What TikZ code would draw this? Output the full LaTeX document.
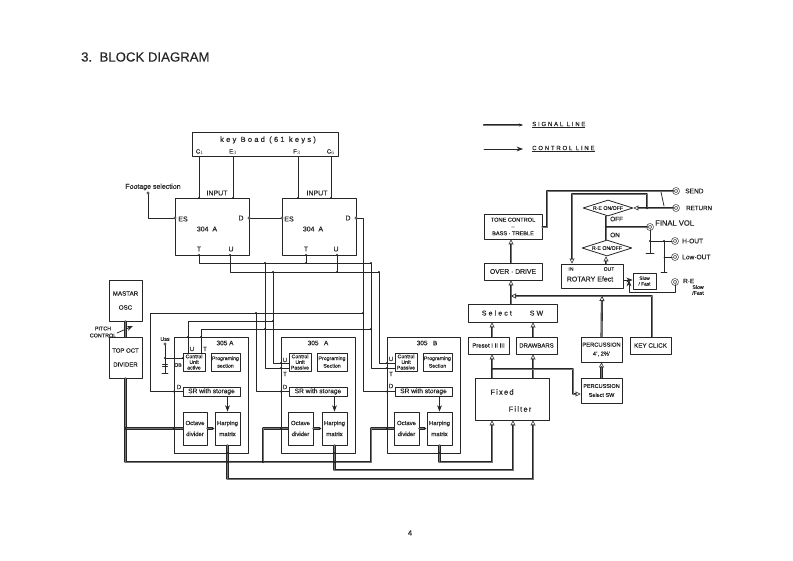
\documentclass[tikz,border=0pt]{standalone}
\usepackage{fontspec}
\setmainfont{Liberation Sans}[RawFeature={embolden=0.5}]
\newfontfamily\plainfont{Liberation Sans}[RawFeature={embolden=0.25}]
\newfontfamily\widefont[LetterSpace=16, RawFeature={embolden=0.5}]{Liberation Sans}
\newfontfamily\widerfont[LetterSpace=30, RawFeature={embolden=0.5}]{Liberation Sans}
\usetikzlibrary{arrows.meta,shapes.geometric}
\begin{document}
\begin{tikzpicture}[x=1pt, y=-1pt, line cap=round, line join=round, >=Stealth, font=\fontsize{6}{7}\selectfont, color=black!85,
	blk/.style={draw, line width=0.8pt, inner sep=0pt, align=center},
	ctl/.style={line width=0.75pt},
	sig/.style={line width=0.6pt, double=black!55, double distance=0.9pt},
	sigin/.style={sig, -{Triangle[open, length=5pt, width=5pt]}},
	jack/.style={circle, draw, line width=0.6pt, double=white, double distance=1.2pt, minimum size=5pt, inner sep=0pt},
	turn/.style={diamond, draw, line width=0.8pt, aspect=3, inner sep=0pt, minimum width=50pt, minimum height=16pt, font=\fontsize{5.2}{6}\selectfont},
	txt/.style={inner sep=0pt, align=center},
	pinl/.style={txt, font=\fontsize{7}{8}\selectfont},
	ctlb/.style={blk, minimum height=18pt, font=\fontsize{5.2}{5.6}\selectfont},
	prgb/.style={blk, minimum height=18pt, font=\fontsize{5.2}{7.5}\selectfont},
	srb/.style={blk, minimum height=9pt, font=\fontsize{6.6}{7}\selectfont},
	octb/.style={blk, minimum height=33pt, font=\fontsize{6}{9}\selectfont},
	earth/.style={line width=0.7pt}]
	\useasboundingbox (0,0) rectangle (793,561);
	\node[anchor=west, txt, font=\plainfont\fontsize{13.2}{16}\selectfont] (title) at (81,57) {3.\ \ BLOCK DIAGRAM};
	\node[txt, font=\plainfont\fontsize{7.5}{8}\selectfont] (page) at (410,533) {4};

	\coordinate (legA) at (484,125);
	\coordinate (legB) at (523,125);
	\coordinate (legC) at (484,149);
	\coordinate (legD) at (523,149);
	\draw[sig, -{Stealth[length=4pt]}] (legA) -- (legB);
	\draw[ctl, ->] (legC) -- (legD);
	\node[anchor=west, txt, font=\widerfont\fontsize{6}{7}\selectfont] (sigtxt) at (532,125) {\underline{SIGNAL LINE}};
	\node[anchor=west, txt, font=\widerfont\fontsize{6}{7}\selectfont] (ctltxt) at (532,149) {\underline{CONTROL LINE}};

	\node[blk, minimum width=146pt, minimum height=24pt] (keyb) at (265,144) {};
	\node[txt, font=\widerfont\fontsize{7.5}{8}\selectfont] (keytxt) at (268,140) {key Boad (61 keys)};
	\node[txt] (c1) at (200,152) {C$_1$};
	\node[txt] (e3) at (233,152) {E$_3$};
	\node[txt] (f3) at (297,152) {F$_3$};
	\node[txt] (c6) at (331,152) {C$_6$};
	\node[blk, minimum width=74pt, minimum height=57pt] (chipA) at (212,226.5) {};
	\node[blk, minimum width=74pt, minimum height=57pt] (chipB) at (319,226.5) {};
	\node[pinl] at (207,229) {304\ \ A};
	\node[pinl] at (313,229) {304\ \ A};
	\node[pinl] at (217,193) {INPUT};
	\node[pinl] at (317,193) {INPUT};
	\node[pinl] at (183,219) {ES};
	\node[pinl] at (241,218) {D};
	\node[pinl] at (199,249) {T};
	\node[pinl] at (231,249) {U};
	\node[pinl] at (289,219) {ES};
	\node[pinl] at (348,218) {D};
	\node[pinl] at (306,249) {T};
	\node[pinl] at (336,249) {U};
	\node[pinl] (foot) at (153,187) {Footage selection};

	\node[blk, minimum width=33pt, minimum height=41pt, font=\fontsize{6.2}{11}\selectfont] (mstr) at (125.5,300.5) {MASTAR\\[3pt]OSC};
	\node[blk, minimum width=33pt, minimum height=41pt, font=\fontsize{6}{11}\selectfont] (topoct) at (125.5,357.5) {TOP OCT\\[3pt]DIVIDER};
	\node[txt, font=\fontsize{5.4}{7}\selectfont] (pitch) at (103,332) {PITCH\\CONTROL};

	\node[blk, minimum width=74pt, minimum height=116pt] (secA) at (211,395) {};
	\node[blk, minimum width=74pt, minimum height=116pt] (secB) at (318,395) {};
	\node[blk, minimum width=73pt, minimum height=116pt] (secC) at (423.5,395) {};
	\node[txt, font=\fontsize{6.5}{7}\selectfont] at (225,343) {305 A};
	\node[txt, font=\fontsize{6.5}{7}\selectfont] at (318,343) {305\ \ \ A};
	\node[txt, font=\fontsize{6.5}{7}\selectfont] at (427,343) {305\ \ \ B};

	\node[ctlb, minimum width=22pt] (ctlA) at (194,362) {Control\\Unit\\active};
	\node[prgb, minimum width=29pt] (prgA) at (225.5,362) {Programing\\section};
	\node[srb, minimum width=57pt] (srA) at (211.5,391.5) {SR with storage};
	\node[octb, minimum width=24pt] (octA) at (195,428.5) {Octave\\[2pt]divider};
	\node[octb, minimum width=25pt] (harA) at (227.5,428.5) {Harping\\[2pt]matrix};

	\node[ctlb, minimum width=22pt] (ctlB) at (300,362) {Control\\Unit\\Passive};
	\node[prgb, minimum width=30pt] (prgB) at (332,362) {Programing\\Section};
	\node[srb, minimum width=58pt] (srB) at (318,391.5) {SR with storage};
	\node[octb, minimum width=25pt] (octB) at (300.5,428.5) {Octave\\[2pt]divider};
	\node[octb, minimum width=25pt] (harB) at (334.5,428.5) {Harping\\[2pt]matrix};

	\node[ctlb, minimum width=22pt] (ctlC) at (406,362) {Control\\Unit\\Passive};
	\node[prgb, minimum width=29pt] (prgC) at (437.5,362) {Programing\\Section};
	\node[srb, minimum width=57pt] (srC) at (423.5,391.5) {SR with storage};
	\node[octb, minimum width=25pt] (octC) at (406.5,428.5) {Octave\\[2pt]divider};
	\node[octb, minimum width=25pt] (harC) at (439.5,428.5) {Harping\\[2pt]matrix};

	\node[txt] at (192,349) {U};
	\node[txt] at (205,349) {T};
	\node[txt] at (179,387) {D};
	\node[txt, font=\fontsize{5}{7}\selectfont] at (178,365) {OB};
	\node[txt, font=\fontsize{5.4}{7}\selectfont] at (165,339) {Uss};
	\node[txt] at (285,360) {U};
	\node[txt] at (285,374) {T};
	\node[txt] at (285,387) {D};
	\node[txt] at (391,359) {U};
	\node[txt] at (391,374) {T};
	\node[txt] at (391,386) {D};

	\node[blk, minimum width=74pt, minimum height=42pt] (filt) at (512,399) {};
	\node[txt, font=\widefont\fontsize{7.5}{8}\selectfont] (fixed) at (502,392) {Fixed};
	\node[txt, font=\widefont\fontsize{7.5}{8}\selectfont] (filter) at (520,409) {Filter};
	\node[blk, minimum width=41pt, minimum height=17pt, font=\fontsize{6}{7}\selectfont] (pres) at (488.5,345.5) {Preset I II III};
	\node[blk, minimum width=41pt, minimum height=17pt, font=\fontsize{6}{7}\selectfont] (bars) at (536.5,345.5) {DRAWBARS};
	\node[blk, minimum width=89pt, minimum height=18pt, font=\widerfont\fontsize{7}{8}\selectfont] (sel) at (512.5,313) {Select\hspace{18pt}SW};
	\node[blk, minimum width=41pt, minimum height=25pt, font=\fontsize{5.8}{9}\selectfont] (perc) at (601.5,349.5) {PERCUSSION\\4', 2⅔'};
	\node[blk, minimum width=41pt, minimum height=25pt, font=\fontsize{5.5}{9}\selectfont] (psel) at (601.5,390.5) {PERCUSSION\\Select SW};
	\node[blk, minimum width=41pt, minimum height=17pt, font=\fontsize{6.3}{7}\selectfont] (keyc) at (650.5,345.5) {KEY CLICK};
	\node[blk, minimum width=58pt, minimum height=17pt, font=\fontsize{6.8}{7}\selectfont] (over) at (513,271.5) {OVER · DRIVE};
	\node[blk, minimum width=58pt, minimum height=25pt, font=\fontsize{5.6}{6.8}\selectfont] (tone) at (513,226.5) {TONE CONTROL\\--\\BASS · TREBLE};
	\node[blk, minimum width=62pt, minimum height=24pt] (rot) at (592,276) {};
	\node[txt, font=\fontsize{5}{5}\selectfont] at (571,269) {IN};
	\node[txt, font=\fontsize{5}{5}\selectfont] at (609,269) {OUT};
	\node[txt, font=\fontsize{7}{7}\selectfont] (rottxt) at (590,279) {ROTARY Efect};
	\node[blk, minimum width=23pt, minimum height=16pt, font=\fontsize{4.8}{5.6}\selectfont] (slow) at (644.5,281) {Slow\\/ Fast};
	\node[turn] (dmA) at (608,208) {R·E ON/OFF};
	\node[turn] (dmB) at (607,248) {R·E ON/OFF};
	\node[txt, anchor=west, font=\fontsize{6.4}{7}\selectfont] at (610,219) {OFF};
	\node[txt, anchor=west, font=\fontsize{6.4}{7}\selectfont] at (610,235) {ON};

	\node[jack] (send) at (676,191) {};
	\node[jack] (retn) at (676,208) {};
	\node[jack] (fvol) at (650,227) {};
	\node[jack] (hout) at (675,241) {};
	\node[jack] (lout) at (675,257) {};
	\node[jack] (reft) at (675,282) {};
	\node[txt, anchor=west, font=\fontsize{6.6}{7}\selectfont] at (685,191) {SEND};
	\node[txt, anchor=west, font=\fontsize{6.2}{7}\selectfont] at (686,208) {RETURN};
	\node[txt, anchor=west, font=\fontsize{7.6}{8}\selectfont] at (655,223) {FINAL VOL};
	\node[txt, anchor=west, font=\fontsize{6.6}{7}\selectfont] at (682,241) {H·OUT};
	\node[txt, anchor=west, font=\fontsize{6.6}{7}\selectfont] at (682,257) {Low·OUT};
	\node[txt, anchor=west, font=\fontsize{6.4}{7}\selectfont] at (683,281) {R·E};
	\node[txt, font=\fontsize{5.2}{5.8}\selectfont] at (698,290) {Slow\\/Fast};

	% key board to 304 A
	\coordinate (xC) at (199,0);
	\coordinate (xE) at (233,0);
	\coordinate (xF) at (298,0);
	\coordinate (xG) at (331,0);
	\draw[ctl] (keyb.south -| xC) -- (chipA.north -| xC);
	\draw[ctl] (keyb.south -| xE) -- (chipA.north -| xE);
	\draw[ctl] (keyb.south -| xF) -- (chipB.north -| xF);
	\draw[ctl] (keyb.south -| xG) -- (chipB.north -| xG);
	\coordinate (footA) at (148,193);
	\coordinate (footB) at (148,218);
	\coordinate (esA) at (175,218);
	\coordinate (dA) at (249,218);
	\coordinate (esB) at (282,218);
	\coordinate (dB) at (356,218);
	\draw[ctl] (footA) -- (footB) -- (esA);
	\draw[ctl] (dA) -- (esB);

	% control lines T
	\coordinate (tA) at (199,255);
	\coordinate (tB) at (306,255);
	\coordinate (tAa) at (199,263);
	\coordinate (tBa) at (306,263);
	\coordinate (tM) at (265,263);
	\coordinate (tR) at (371,263);
	\coordinate (tMb) at (265,368);
	\coordinate (tRb) at (371,368);
	\coordinate (tLa) at (201,353);
	\coordinate (tLb) at (201,329);
	\coordinate (tRc) at (371,329);
	\draw[ctl] (tA) -- (tAa) -- (tR) -- (tRb) -- (tRb -| ctlC.west);
	\draw[ctl] (tB) -- (tBa);
	\draw[ctl] (tM) -- (tMb) -- (tMb -| ctlB.west);
	\draw[ctl] (tLa) -- (tLb) -- (tRc);

	% control lines U
	\coordinate (uA) at (230,255);
	\coordinate (uB) at (337,255);
	\coordinate (uAa) at (230,272);
	\coordinate (uBa) at (337,272);
	\coordinate (uM) at (273,272);
	\coordinate (uR) at (379,272);
	\coordinate (uMb) at (273,363);
	\coordinate (uRb) at (379,363);
	\coordinate (uLa) at (188,353);
	\coordinate (uLb) at (188,321);
	\coordinate (uMc) at (273,321);
	\draw[ctl] (uA) -- (uAa) -- (uR) -- (uRb) -- (uRb -| ctlC.west);
	\draw[ctl] (uB) -- (uBa);
	\draw[ctl] (uM) -- (uMb) -- (uMb -| ctlB.west);
	\draw[ctl] (uLa) -- (uLb) -- (uMc);

	% data line D
	\coordinate (dBa) at (363,218);
	\coordinate (dBb) at (363,391.5);
	\coordinate (dBc) at (363,313);
	\coordinate (dL) at (150,313);
	\coordinate (dLb) at (150,391.5);
	\coordinate (dM) at (256,313);
	\coordinate (dMb) at (256,391.5);
	\draw[ctl] (dB) -- (dBa) -- (dBb) -- (srC.west);
	\draw[ctl] (dBc) -- (dL) -- (dLb) -- (srA.west);
	\draw[ctl] (dM) -- (dMb) -- (srB.west);

	\draw[ctl, ->] (srA.south -| harA.north) -- (harA.north);
	\draw[ctl, ->] (srB.south -| harB.north) -- (harB.north);
	\draw[ctl, ->] (srC.south -| harC.north) -- (harC.north);

	% Uss
	\coordinate (ussA) at (165,344);
	\coordinate (ussB) at (165,373);
	\coordinate (ussC) at (165,358);
	\coordinate (ussD) at (183,358);
	\draw[ctl] (ussA) -- (ussB);
	\draw[ctl] (ussC) -- (ussD);
	\draw[earth] (ussB) ++(-3,0) -- ++(6,0);
	\draw[earth] (ussC) ++(-2.5,6) -- ++(5,0);
	\draw[earth] (ussC) ++(-2.5,8) -- ++(5,0);

	% pitch control
	\coordinate (pchA) at (117,333);
	\coordinate (pchB) at (133,326);
	\draw[ctl, ->] (pchA) -- (pchB);

	% signal lines from divider
	\coordinate (busA) at (125.5,462);
	\coordinate (busB) at (371,462);
	\coordinate (busC) at (371,428.5);
	\coordinate (busD) at (125.5,428.5);
	\coordinate (busE) at (263,462);
	\coordinate (busF) at (263,428.5);
	\draw[sig] (mstr.south) -- (topoct.north);
	\draw[sig] (topoct.south) -- (busA) -- (busB) -- (busC) -- (octC.west);
	\draw[sig] (busD) -- (octA.west);
	\draw[sig] (busE) -- (busF) -- (octB.west);
	\draw[sig, -{Stealth[length=3pt]}] (octA.east) -- (harA.west);
	\draw[sig, -{Stealth[length=3pt]}] (octB.east) -- (harB.west);
	\draw[sig, -{Stealth[length=3pt]}] (octC.east) -- (harC.west);

	% harping matrix to filter
	\coordinate (xFa) at (492,0);
	\coordinate (xFb) at (513,0);
	\coordinate (xFc) at (533,0);
	\coordinate (yHa) at (0,479);
	\coordinate (yHb) at (0,470);
	\coordinate (yHc) at (0,462);
	\draw[sigin] (harA.south) -- (harA.south |- yHa) -- (xFc |- yHa) -- (filt.south -| xFc);
	\draw[sigin] (harB.south) -- (harB.south |- yHb) -- (xFb |- yHb) -- (filt.south -| xFb);
	\draw[sigin] (harC.south) -- (harC.south |- yHc) -- (xFa |- yHc) -- (filt.south -| xFa);

	% filter and upward
	\coordinate (xGa) at (492,0);
	\coordinate (xGb) at (533,0);
	\coordinate (prA) at (492,369);
	\coordinate (prB) at (573,369);
	\coordinate (prC) at (573,394);
	\draw[sigin] (filt.north -| xGa) -- (pres.south -| xGa);
	\draw[sigin] (filt.north -| xGb) -- (bars.south -| xGb);
	\draw[sigin] (pres.north -| xGa) -- (sel.south -| xGa);
	\draw[sigin] (bars.north -| xGb) -- (sel.south -| xGb);
	\draw[sigin] (prA) -- (prB) -- (prC) -- (prC -| psel.west);
	\draw[sigin] (psel.north) -- (perc.south);

	\coordinate (bsA) at (511,296);
	\coordinate (bsB) at (602,296);
	\coordinate (bsC) at (652,296);
	\draw[sigin] (sel.north -| bsA) -- (over.south -| bsA);
	\draw[sigin] (over.north -| bsA) -- (tone.south -| bsA);
	\draw[sigin] (perc.north) -- (bsB);
	\draw[sig] (keyc.north -| bsC) -- (bsC) -- (bsB);
	\draw[sigin] (bsB) -- (bsA);

	% effect loop
	\coordinate (lpA) at (547,227);
	\coordinate (lpB) at (547,191);
	\coordinate (lpC) at (647,208);
	\coordinate (lpD) at (647,194);
	\coordinate (lpE) at (572,194);
	\coordinate (lpF) at (606,227);
	\coordinate (lpG) at (606,264);
	\draw[sig] (lpA -| tone.east) -- (lpA) -- (lpB) -- (send.west);
	\draw[sigin] (retn.west) -- (dmA.east);
	\draw[sigin] (lpC) -- (lpD) -- (lpE) -- (lpE |- rot.north);
	\draw[sig] (dmA.south -| lpF) -- (dmB.north -| lpF);
	\draw[sig] (lpF) -- (fvol.west);
	\draw[sigin] (lpG) -- (dmB.south -| lpG);
	\coordinate (swA) at (661,192);
	\coordinate (swB) at (664,206);
	\draw[ctl] (swA) -- (swB);

	% outputs
	\coordinate (fvA) at (650,253);
	\coordinate (fvB) at (650,241);
	\coordinate (fvC) at (664,241);
	\coordinate (fvD) at (664,272);
	\coordinate (fvE) at (664,257);
	\draw[ctl] (fvol.south) -- (fvA);
	\draw[ctl] (fvB) -- (hout.west);
	\draw[ctl] (fvC) -- (fvD);
	\draw[ctl] (fvE) -- (lout.west);
	\draw[earth] (fvA) ++(-4,0) -- ++(8,0);
	\draw[earth] (fvD) ++(-3,0) -- ++(6,0);

	% slow and fast
	\coordinate (rfA) at (629,292);
	\coordinate (rfB) at (675,292);
	\coordinate (rfC) at (629,280);
	\draw[ctl, ->] (rot.east |- rfC) -- (slow.west |- rfC);
	\draw[ctl, ->] (reft.south) -- (rfB) -- (rfA) -- (rfC);

	\foreach \p in {(199,198), (233,198), (298,198), (331,198),
		(199,255), (230,255), (306,255), (337,255), (306,263), (265,263), (337,272), (273,272), (371,263), (379,272),
		(263,462), (125.5,428.5), (174,428.5), (281,428.5), (387,428.5), (174,391.5), (281,391.5), (387,391.5),
		(183,358), (165,358), (188,337), (201,337), (265,329), (371,329), (273,321), (256,313), (363,313), (227.5,453), (334.5,453), (439.5,453),
		(227.5,462), (334.5,462), (492,369), (647,208), (606,227), (664,241), (650,241), (281,363), (281,368), (387,363), (387,368)}
		\fill \p circle (1.2pt);
	\foreach \p in {(148,193), (175,218), (249,218), (282,218), (356,218), (165,344)}
		\draw[fill=white, line width=0.5pt] \p circle (1.3pt);
\end{tikzpicture}
\end{document}
